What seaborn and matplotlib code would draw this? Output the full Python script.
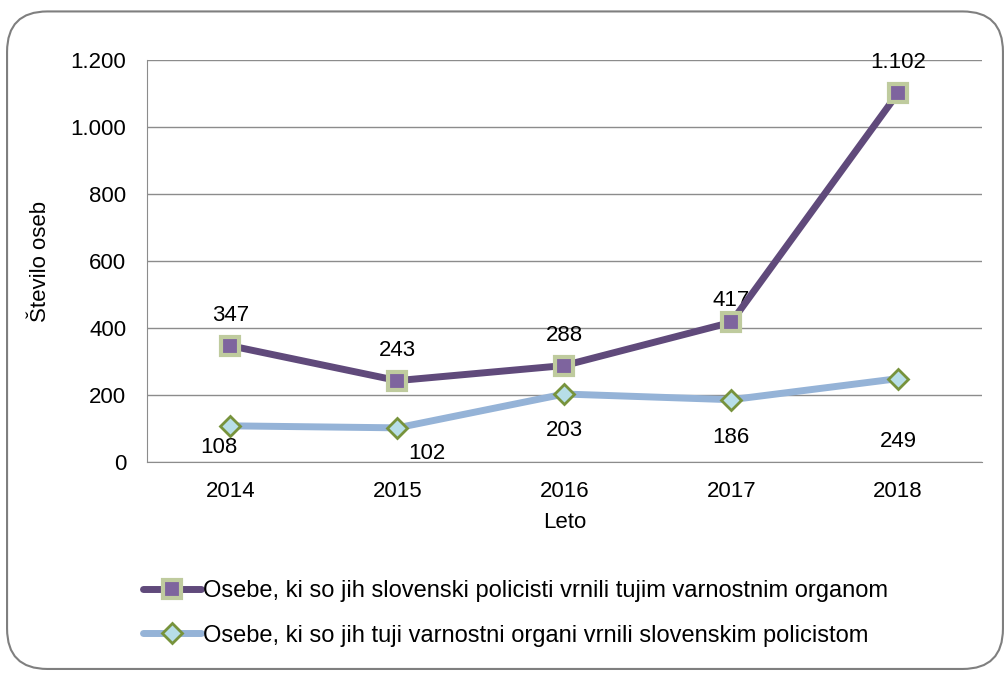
import matplotlib.pyplot as plt
import seaborn as sns
import pandas as pd
from matplotlib.patches import FancyBboxPatch
from matplotlib.ticker import FixedLocator, FuncFormatter

years = ['2014', '2015', '2016', '2017', '2018']
returned_by_slo = [347, 243, 288, 417, 1102]
returned_to_slo = [108, 102, 203, 186, 249]
label_slo = 'Osebe, ki so jih slovenski policisti vrnili tujim varnostnim organom'
label_foreign = 'Osebe, ki so jih tuji varnostni organi vrnili slovenskim policistom'

sns.set_style('white')
plt.rcParams['font.family'] = ['Liberation Sans', 'DejaVu Sans']
plt.rcParams['text.color'] = 'black'
plt.rcParams['axes.labelcolor'] = 'black'

df_slo = pd.DataFrame({'Leto': years, 'Število oseb': returned_by_slo})
df_foreign = pd.DataFrame({'Leto': years, 'Število oseb': returned_to_slo})

fig = plt.figure(figsize=(10.08, 6.73), dpi=100)
ax = fig.add_axes([0.1458, 0.3135, 0.828, 0.5973])

# rounded outer frame
frame = FancyBboxPatch((0.007, 0.006), 0.988, 0.977, boxstyle='round,pad=0,rounding_size=0.04',
                       transform=fig.transFigure, fill=False, edgecolor='#7f7f7f', linewidth=1.5,
                       mutation_aspect=1008 / 673)
fig.patches.append(frame)

sns.lineplot(data=df_slo, x='Leto', y='Število oseb', ax=ax, color='#604A7B', linewidth=5,
             marker='s', markersize=13, markerfacecolor='#7E649E', markeredgecolor='#BFCB9E',
             markeredgewidth=3, label=label_slo, zorder=4)
sns.lineplot(data=df_foreign, x='Leto', y='Število oseb', ax=ax, color='#95B3D7', linewidth=5,
             marker='D', markersize=10, markerfacecolor='#B7DEE8', markeredgecolor='#77933C',
             markeredgewidth=2, label=label_foreign, zorder=4)

fmt = lambda v: f'{v:,}'.replace(',', '.')

# data labels
offsets_slo = [(0, 14), (0, 14), (0, 14), (0, 8), (0, 14)]
for i, v in enumerate(returned_by_slo):
    ax.annotate(fmt(v), (i, v), xytext=offsets_slo[i], textcoords='offset points',
                ha='center', va='bottom', fontsize=16)
offsets_foreign = [(-8, -8), (21, -11), (0, -19), (0, -19.5), (0, -38)]
for i, v in enumerate(returned_to_slo):
    ax.annotate(fmt(v), (i, v), xytext=offsets_foreign[i], textcoords='offset points',
                ha='center', va='top', fontsize=16)

ax.set_xlim(-0.5, 4.5)
ax.set_ylim(0, 1200)
ax.set_yticks(range(0, 1201, 200))
ax.yaxis.set_major_formatter(FuncFormatter(lambda v, p: fmt(int(v))))
ax.grid(axis='y', color='#8c8c8c', linewidth=1)
ax.set_axisbelow(True)
ax.xaxis.set_minor_locator(FixedLocator([-0.5, 0.5, 1.5, 2.5, 3.5, 4.5]))
ax.tick_params(axis='x', which='major', length=0, labelsize=16, pad=14, labelcolor='black')
ax.tick_params(axis='x', which='minor', length=4, color='#8c8c8c', direction='out')
ax.tick_params(axis='y', length=4, color='#8c8c8c', direction='out', labelsize=16, pad=11,
               labelcolor='black')
for side in ['top', 'right']:
    ax.spines[side].set_visible(False)
for side in ['left', 'bottom']:
    ax.spines[side].set_color('#8c8c8c')

ax.set_xlabel('Leto', fontsize=16, labelpad=7)
ax.set_ylabel('Število oseb', fontsize=16, labelpad=14)

ax.legend(loc='upper left', bbox_to_anchor=(0.142, 0.138), bbox_transform=fig.transFigure,
          frameon=False, fontsize=17, handlelength=2.45, handletextpad=0.1, labelspacing=0.95,
          borderaxespad=0, borderpad=0)

fig.savefig('out.png', dpi=100)
